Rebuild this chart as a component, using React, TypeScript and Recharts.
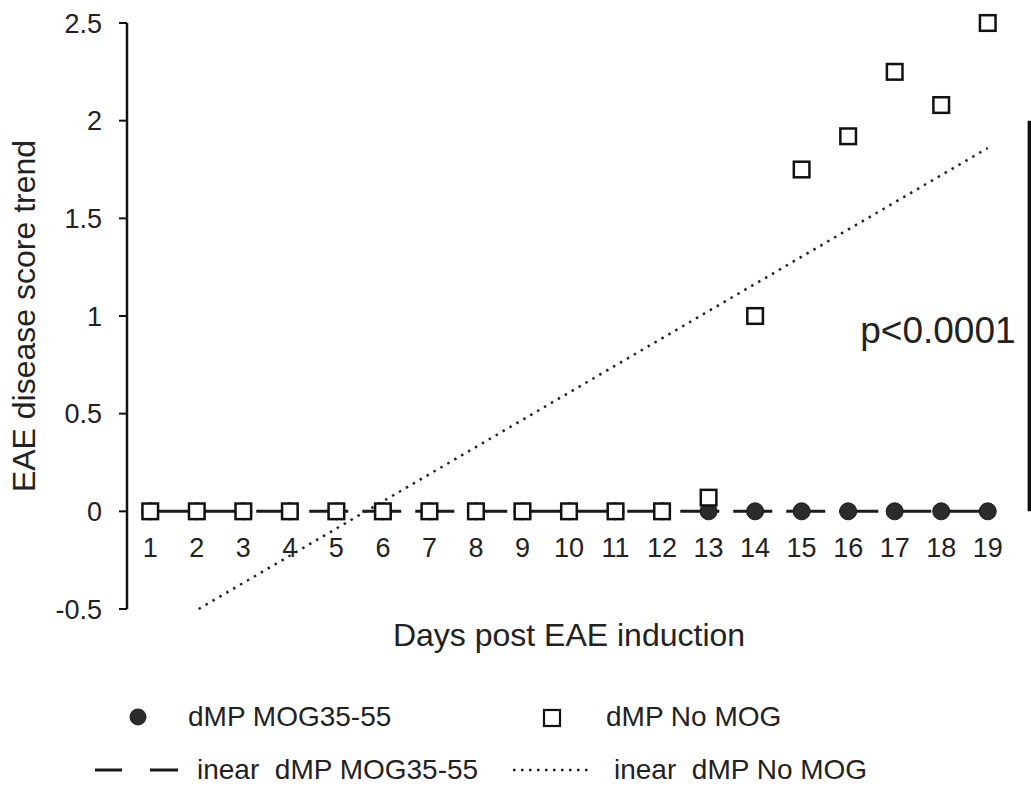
import React from "react";
import {
  ComposedChart,
  Line,
  Scatter,
  XAxis,
  YAxis,
  ReferenceLine,
  LabelList,
} from "recharts";

// Days post induction (x values and the day labels drawn under the zero line)
const days = [1, 2, 3, 4, 5, 6, 7, 8, 9, 10, 11, 12, 13, 14, 15, 16, 17, 18, 19];

// Mean EAE disease scores per group
const mogScores = [0, 0, 0, 0, 0, 0, 0, 0, 0, 0, 0, 0, 0, 0, 0, 0, 0, 0, 0];
const noMogScores = [0, 0, 0, 0, 0, 0, 0, 0, 0, 0, 0, 0, 0.07, 1.0, 1.75, 1.92, 2.25, 2.08, 2.5];

// Linear trend lines
const mogTrend = [0, 0, 0, 0, 0, 0, 0, 0, 0, 0, 0, 0, 0, 0, 0, 0, 0, 0, 0];
const noMogTrendDays = [2.04, 19];
const noMogTrendValues = [-0.5, 1.86];

// Y axis ticks
const yTicks = [-0.5, 0, 0.5, 1, 1.5, 2, 2.5];

// Significance bracket
const pValueText = "p<0.0001";
const bracketDay = 19.9;
const bracketRange = [0, 2.0];

// Legend texts
const seriesNames = ["dMP MOG35-55", "dMP No MOG"];
const trendPrefix = "inear";

const W = 1031;
const H = 788;
const FONT = "'Liberation Sans', Arial, Helvetica, sans-serif";
const INK = "#222";

const mogData = days.map((d, i) => ({ day: d, value: mogScores[i] }));
const noMogData = days.map((d, i) => ({ day: d, value: noMogScores[i] }));
const mogTrendData = days.map((d, i) => ({ day: d, value: mogTrend[i] }));
const noMogTrendData = noMogTrendDays.map((d, i) => ({ day: d, value: noMogTrendValues[i] }));

const CircleDot = (props: any) => {
  const { cx, cy } = props;
  if (cx == null || cy == null) return null;
  return <circle cx={cx} cy={cy} r={8.5} fill="#2b2b2b" stroke="#1a1a1a" strokeWidth={1} />;
};

const SquareDot = (props: any) => {
  const { cx, cy } = props;
  if (cx == null || cy == null) return null;
  return (
    <rect x={cx - 7.8} y={cy - 7.8} width={15.6} height={15.6} fill="#fff" stroke="#111" strokeWidth={2.5} />
  );
};

const YTitle = (props: any) => {
  const vb = props.viewBox || { x: 0, y: 0, width: 0, height: 0 };
  const cy = vb.y + vb.height / 2;
  return (
    <text
      transform={`translate(35, ${cy}) rotate(-90)`}
      textAnchor="middle"
      fontSize={32}
      fontFamily={FONT}
      fill={INK}
    >
      EAE disease score trend
    </text>
  );
};

const XTitle = (props: any) => {
  const vb = props.viewBox || { x: 0, y: 0, width: 0, height: 0 };
  return (
    <text x={vb.x + vb.width / 2} y={vb.y + 37} textAnchor="middle" fontSize={32} fontFamily={FONT} fill={INK}>
      Days post EAE induction
    </text>
  );
};

const PLabel = (props: any) => {
  const vb = props.viewBox || { x: 0, y: 0, width: 0, height: 0 };
  const midY = vb.y + vb.height / 2;
  return (
    <text x={vb.x - 14} y={midY + 27} textAnchor="end" fontSize={37} fontFamily={FONT} fill={INK}>
      {pValueText}
    </text>
  );
};

export default function App() {
  return (
    <div
      style={{
        position: "absolute",
        left: 0,
        top: 0,
        width: W,
        height: H,
        background: "#fff",
        fontFamily: FONT,
      }}
    >
      <ComposedChart width={W} height={H} margin={{ top: 23, right: 20, bottom: 139, left: 0 }}>
        <XAxis
          type="number"
          dataKey="day"
          domain={[0.5, 19.5]}
          ticks={days}
          tick={false}
          axisLine={false}
          tickLine={false}
          height={40}
          label={(p: any) => <XTitle {...p} />}
        />
        <YAxis
          type="number"
          domain={[-0.5, 2.5]}
          ticks={yTicks}
          interval={0}
          width={127}
          axisLine={{ stroke: "#111", strokeWidth: 2.5 }}
          tickLine={{ stroke: "#111", strokeWidth: 2 }}
          tickSize={8}
          tickMargin={17}
          tick={{ fill: INK, fontSize: 27, fontFamily: FONT }}
          label={(p: any) => <YTitle {...p} />}
        />
        <Scatter data={mogData} dataKey="value" shape={CircleDot} isAnimationActive={false} />
        <Scatter data={noMogData} dataKey="value" shape={SquareDot} isAnimationActive={false} />
        <Line
          data={mogTrendData}
          dataKey="value"
          type="linear"
          stroke="#1a1a1a"
          strokeWidth={3}
          strokeDasharray="39 14"
          dot={false}
          activeDot={false}
          isAnimationActive={false}
        >
          <LabelList dataKey="day" position="bottom" offset={26} fill={INK} fontSize={27} fontFamily={FONT} />
        </Line>
        <Line
          data={noMogTrendData}
          dataKey="value"
          type="linear"
          stroke="#222"
          strokeWidth={2.5}
          strokeDasharray="2.5 5.5"
          dot={false}
          activeDot={false}
          isAnimationActive={false}
        />
        <ReferenceLine
          segment={[
            { x: bracketDay, y: bracketRange[0] },
            { x: bracketDay, y: bracketRange[1] },
          ]}
          stroke="#111"
          strokeWidth={4}
          ifOverflow="visible"
          label={(p: any) => <PLabel {...p} />}
        />
      </ComposedChart>

      {/* Legend */}
      <svg
        width={W}
        height={H}
        style={{ position: "absolute", left: 0, top: 0, pointerEvents: "none" }}
      >
        <circle cx={138} cy={717} r={8.5} fill="#2b2b2b" />
        <text x={188} y={726} fontSize={28} fontFamily={FONT} fill={INK}>
          {seriesNames[0]}
        </text>
        <rect x={544} y={710} width={16} height={16} fill="#fff" stroke="#111" strokeWidth={2.2} />
        <text x={606} y={726} fontSize={28} fontFamily={FONT} fill={INK}>
          {seriesNames[1]}
        </text>

        <line x1={95} y1={770} x2={122} y2={770} stroke="#1a1a1a" strokeWidth={3} />
        <line x1={150} y1={770} x2={178} y2={770} stroke="#1a1a1a" strokeWidth={3} />
        <text x={197} y={779} fontSize={28} fontFamily={FONT} fill={INK} style={{ whiteSpace: "pre" }}>
          {`${trendPrefix}  ${seriesNames[0]}`}
        </text>
        <line x1={513} y1={770} x2={588} y2={770} stroke="#222" strokeWidth={2.5} strokeDasharray="2.5 5.5" />
        <text x={614} y={779} fontSize={28} fontFamily={FONT} fill={INK} style={{ whiteSpace: "pre" }}>
          {`${trendPrefix}  ${seriesNames[1]}`}
        </text>
      </svg>
    </div>
  );
}
